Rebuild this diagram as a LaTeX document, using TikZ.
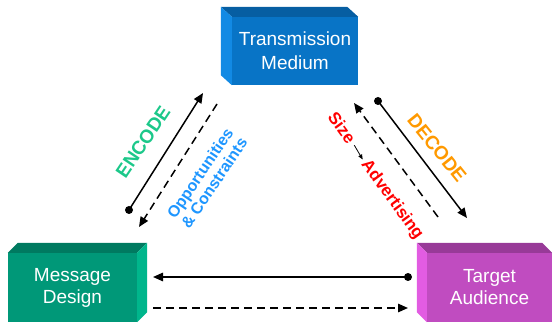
\documentclass[tikz,border=0pt]{standalone}
\usepackage{fontspec}
\setmainfont{Liberation Sans}
\usetikzlibrary{calc,arrows.meta}
\tikzset{>={Triangle[length=10pt,width=8.5pt]}}

\definecolor{medfront}{RGB}{8,116,198}
\definecolor{medtop}{RGB}{6,94,162}
\definecolor{medside}{RGB}{18,138,228}
\definecolor{desfront}{RGB}{0,152,120}
\definecolor{destop}{RGB}{0,122,96}
\definecolor{desside}{RGB}{0,182,140}
\definecolor{audfront}{RGB}{192,76,192}
\definecolor{audtop}{RGB}{152,58,152}
\definecolor{audside}{RGB}{226,92,226}
\definecolor{encodecol}{RGB}{28,200,138}
\definecolor{oppcol}{RGB}{30,150,255}
\definecolor{decodecol}{RGB}{255,153,0}

\tikzset{
  face/.style={draw=none, inner sep=0pt, text=white, align=center,
    font=\fontsize{19}{22}\selectfont},
  link/.style={line width=1.5pt},
  dashlink/.style={line width=1.5pt, dash pattern=on 8pt off 5pt},
  tag/.style={inner sep=2pt, font=\bfseries\fontsize{19}{22}\selectfont},
  smalltag/.style={inner sep=2pt, align=center, font=\bfseries\fontsize{16}{17}\selectfont},
}

\begin{document}
\begin{tikzpicture}[x=1pt,y=1pt]
\useasboundingbox (0,0) rectangle (552,324);

% Boxes for medium, design, audience
\node[face, fill=medfront, minimum width=126pt, minimum height=68pt] (medium) at (295,273) {Transmission\\[2pt]Medium};
\fill[medtop] (medium.north west) -- ++(-11,10) -- ($(medium.north east)+(-11,10)$) -- (medium.north east) -- cycle;
\fill[medside] (medium.north west) -- ++(-11,10) -- ($(medium.south west)+(-11,10)$) -- (medium.south west) -- cycle;

\node[face, fill=desfront, minimum width=129pt, minimum height=69pt] (design) at (72.5,36.5) {Message\\Design};
\fill[destop] (design.north west) -- ++(10,10) -- ($(design.north east)+(10,10)$) -- (design.north east) -- cycle;
\fill[desside] (design.north east) -- ++(10,10) -- ($(design.south east)+(10,10)$) -- (design.south east) -- cycle;

\node[face, fill=audfront, minimum width=125pt, minimum height=69pt] (audience) at (489.5,36.5) {Target\\Audience};
\fill[audtop] (audience.north west) -- ++(-10,10) -- ($(audience.north east)+(-10,10)$) -- (audience.north east) -- cycle;
\fill[audside] (audience.north west) -- ++(-10,10) -- ($(audience.south west)+(-10,10)$) -- (audience.south west) -- cycle;

% End points of the arrows
\coordinate (encfrom) at (129,114);
\coordinate (encto) at (203,231);
\coordinate (oppfrom) at (217,220);
\coordinate (oppto) at (139,97);
\coordinate (decfrom) at (378,223);
\coordinate (decto) at (467,106);
\coordinate (sizefrom) at (438,107);
\coordinate (sizeto) at (354,221);
\coordinate (fbfrom) at (408,47);
\coordinate (fbto) at (153,47);
\coordinate (msgfrom) at (153,16);
\coordinate (msgto) at (408,16);

% Arrows
\draw[link, ->] (encfrom) -- (encto);
\fill (encfrom) circle (4pt);
\draw[dashlink, ->] (oppfrom) -- (oppto);
\draw[link, ->] (decfrom) -- (decto);
\fill (decfrom) circle (4pt);
\draw[dashlink, ->] (sizefrom) -- (sizeto);
\draw[link, ->] (fbfrom) -- (fbto);
\fill (fbfrom) circle (4pt);
\draw[dashlink, ->] (msgfrom) -- (msgto);

% Labels
\node[tag, text=encodecol, rotate=56] (encode) at (143,182) {ENCODE};
\node[smalltag, text=oppcol, rotate=56] (opp) at (207,146) {Opportunities\\\& Constraints};
\node[tag, text=decodecol, rotate=-51] (decode) at (437,176) {DECODE};
\node[tag, text=red, rotate=-54, font=\bfseries\fontsize{17}{20}\selectfont] (size) at (342,196) {Size};
\node[tag, text=red, rotate=-54, font=\bfseries\fontsize{17}{20}\selectfont] (adv) at (392,124) {Advertising};
\draw[line width=0.8pt, -{Triangle[length=5pt,width=4pt]}, shorten <=2pt, shorten >=1pt] (size.east) -- (adv.west);

\end{tikzpicture}
\end{document}
